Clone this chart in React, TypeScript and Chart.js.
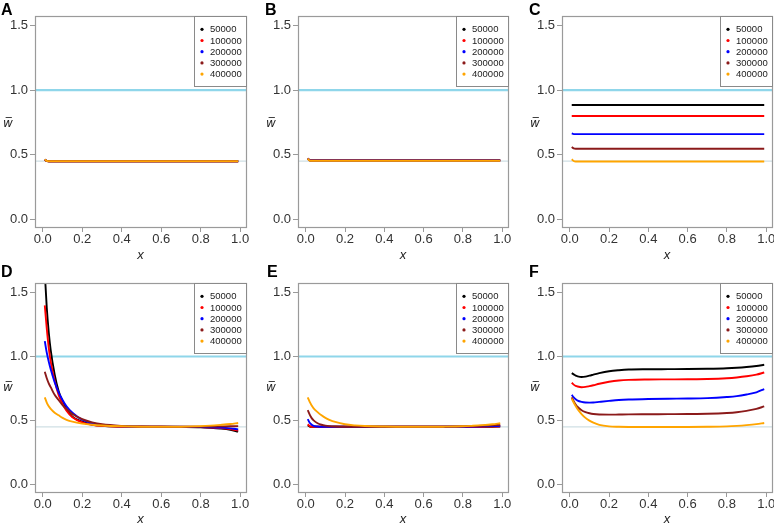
import React, { useEffect, useRef } from 'react';
import { Chart, registerables } from 'chart.js';
Chart.register(...registerables);

// ---------- data ----------
const SERIES_LABELS = ['50000', '100000', '200000', '300000', '400000'];
const SERIES_COLORS = ['#000000', '#ff0000', '#0000ff', '#8b1a1a', '#ffa500'];
const X_TICKS = [0, 0.2, 0.4, 0.6, 0.8, 1.0];
const Y_TICKS = [0, 0.5, 1.0, 1.5];
const X_MIN = -0.0396;
const X_MAX = 1.0296;
const Y_MIN = -0.06;
const Y_MAX = 1.575;
const REF_UPPER = 1.0;
const REF_LOWER = 0.45;
const PANEL_LETTERS = ['A', 'B', 'C', 'D', 'E', 'F'];

// Panels A, B, C share this x grid
const xTop = [0.01, 0.02, 0.03, 0.05, 0.1, 0.2, 0.4, 0.6, 0.8, 0.99];

const A_50000 = [0.46, 0.451, 0.45, 0.45, 0.45, 0.45, 0.45, 0.45, 0.45, 0.45];
const A_100000 = [0.461, 0.451, 0.45, 0.45, 0.45, 0.45, 0.45, 0.45, 0.45, 0.45];
const A_200000 = [0.462, 0.452, 0.45, 0.45, 0.45, 0.45, 0.45, 0.45, 0.45, 0.45];
const A_300000 = [0.463, 0.452, 0.45, 0.45, 0.45, 0.45, 0.45, 0.45, 0.45, 0.45];
const A_400000 = [0.464, 0.452, 0.45, 0.45, 0.45, 0.45, 0.45, 0.45, 0.45, 0.45];

const B_50000 = [0.47, 0.459, 0.457, 0.457, 0.457, 0.457, 0.457, 0.457, 0.457, 0.457];
const B_100000 = [0.47, 0.458, 0.456, 0.456, 0.456, 0.456, 0.456, 0.456, 0.456, 0.456];
const B_200000 = [0.47, 0.457, 0.455, 0.455, 0.455, 0.455, 0.455, 0.455, 0.455, 0.455];
const B_300000 = [0.47, 0.456, 0.454, 0.454, 0.454, 0.454, 0.454, 0.454, 0.454, 0.454];
const B_400000 = [0.47, 0.455, 0.453, 0.453, 0.453, 0.453, 0.453, 0.453, 0.453, 0.453];

const C_50000 = [0.885, 0.885, 0.885, 0.885, 0.885, 0.885, 0.885, 0.885, 0.885, 0.885];
const C_100000 = [0.8, 0.8, 0.8, 0.8, 0.8, 0.8, 0.8, 0.8, 0.8, 0.8];
const C_200000 = [0.665, 0.66, 0.66, 0.66, 0.66, 0.66, 0.66, 0.66, 0.66, 0.66];
const C_300000 = [0.56, 0.549, 0.546, 0.546, 0.546, 0.546, 0.546, 0.546, 0.546, 0.546];
const C_400000 = [0.465, 0.451, 0.447, 0.447, 0.447, 0.447, 0.447, 0.447, 0.447, 0.447];

// Panels D, E, F share this x grid
const xBottom = [0.01, 0.02, 0.03, 0.04, 0.06, 0.08, 0.1, 0.12, 0.15, 0.2, 0.25, 0.3, 0.4, 0.5, 0.6, 0.7, 0.8, 0.85, 0.9, 0.95, 0.99];

const D_50000 = [1.66, 1.38, 1.19, 1.05, 0.86, 0.73, 0.65, 0.59, 0.53, 0.49, 0.468, 0.458, 0.452, 0.45, 0.45, 0.449, 0.447, 0.443, 0.437, 0.427, 0.412];
const D_100000 = [1.4, 1.22, 1.07, 0.96, 0.81, 0.7, 0.63, 0.575, 0.525, 0.485, 0.466, 0.457, 0.451, 0.45, 0.45, 0.449, 0.448, 0.445, 0.44, 0.432, 0.42];
const D_200000 = [1.12, 1.03, 0.96, 0.9, 0.8, 0.72, 0.66, 0.61, 0.56, 0.505, 0.478, 0.464, 0.454, 0.451, 0.45, 0.45, 0.449, 0.447, 0.444, 0.438, 0.43];
const D_300000 = [0.88, 0.83, 0.79, 0.76, 0.7, 0.66, 0.62, 0.59, 0.55, 0.51, 0.485, 0.47, 0.457, 0.452, 0.45, 0.45, 0.451, 0.452, 0.453, 0.454, 0.455];
const D_400000 = [0.68, 0.64, 0.61, 0.59, 0.56, 0.54, 0.52, 0.505, 0.49, 0.475, 0.466, 0.46, 0.454, 0.451, 0.45, 0.451, 0.455, 0.459, 0.465, 0.472, 0.48];

const E_50000 = [0.462, 0.452, 0.45, 0.45, 0.45, 0.45, 0.45, 0.45, 0.45, 0.45, 0.45, 0.45, 0.45, 0.45, 0.45, 0.45, 0.45, 0.45, 0.45, 0.451, 0.452];
const E_100000 = [0.47, 0.455, 0.45, 0.45, 0.45, 0.45, 0.45, 0.45, 0.45, 0.45, 0.45, 0.45, 0.45, 0.45, 0.45, 0.45, 0.45, 0.45, 0.451, 0.452, 0.453];
const E_200000 = [0.51, 0.482, 0.467, 0.458, 0.452, 0.45, 0.45, 0.45, 0.45, 0.45, 0.45, 0.45, 0.45, 0.45, 0.45, 0.45, 0.451, 0.452, 0.453, 0.455, 0.457];
const E_300000 = [0.58, 0.545, 0.518, 0.5, 0.478, 0.466, 0.459, 0.455, 0.452, 0.45, 0.45, 0.45, 0.45, 0.45, 0.45, 0.451, 0.453, 0.455, 0.458, 0.462, 0.466];
const E_400000 = [0.68, 0.645, 0.617, 0.595, 0.565, 0.54, 0.52, 0.505, 0.488, 0.47, 0.461, 0.456, 0.452, 0.45, 0.45, 0.451, 0.454, 0.458, 0.463, 0.47, 0.478];

const F_50000 = [0.87, 0.86, 0.85, 0.845, 0.84, 0.843, 0.85, 0.858, 0.87, 0.885, 0.893, 0.898, 0.9, 0.901, 0.902, 0.904, 0.908, 0.912, 0.918, 0.926, 0.935];
const F_100000 = [0.795, 0.78, 0.77, 0.765, 0.76, 0.762, 0.768, 0.775, 0.787, 0.802, 0.812, 0.817, 0.82, 0.821, 0.822, 0.824, 0.83, 0.836, 0.845, 0.858, 0.875];
const F_200000 = [0.7, 0.68, 0.665, 0.655, 0.645, 0.64, 0.639, 0.64, 0.645, 0.653, 0.66, 0.664, 0.668, 0.67, 0.671, 0.674, 0.683, 0.69, 0.703, 0.72, 0.745];
const F_300000 = [0.68, 0.65, 0.625, 0.605, 0.58, 0.565, 0.556, 0.55, 0.546, 0.545, 0.546, 0.547, 0.548, 0.549, 0.55, 0.552, 0.558, 0.564, 0.575, 0.59, 0.61];
const F_400000 = [0.67, 0.64, 0.612, 0.588, 0.55, 0.52, 0.498, 0.482, 0.465, 0.453, 0.45, 0.449, 0.449, 0.449, 0.449, 0.45, 0.453, 0.457, 0.463, 0.471, 0.48];

const PANEL_X = [xTop, xTop, xTop, xBottom, xBottom, xBottom];
const PANEL_SERIES = [
  [A_50000, A_100000, A_200000, A_300000, A_400000],
  [B_50000, B_100000, B_200000, B_300000, B_400000],
  [C_50000, C_100000, C_200000, C_300000, C_400000],
  [D_50000, D_100000, D_200000, D_300000, D_400000],
  [E_50000, E_100000, E_200000, E_300000, E_400000],
  [F_50000, F_100000, F_200000, F_300000, F_400000],
];

// ---------- layout ----------
const CANVAS_LEFT = [0, 260, 520];
const CANVAS_WIDTH = [260, 260, 254];
const CANVAS_TOP = [0, 260];
const CANVAS_HEIGHT = [260, 266];
const AREA_LEFT = [35, 38, 42];
const AREA_RIGHT = [246, 248, 252];
const AREA_TOP = [16, 23];
const AREA_BOTTOM = [227, 232];
const LETTER_X = [[1, 5, 9], [1, 7, 9]];
const LETTER_BASELINE = [15, 17];
const XLABEL_Y = [255, 259];
const YLABEL_Y = [124, 128];

const FONT = '"Liberation Sans", Arial, Helvetica, sans-serif';
const FRAME = '#9a9a9a';

function Panel({ idx }: { idx: number }) {
  const ref = useRef<HTMLCanvasElement | null>(null);
  const row = Math.floor(idx / 3);
  const col = idx % 3;
  const w = CANVAS_WIDTH[col];
  const h = CANVAS_HEIGHT[row];

  useEffect(() => {
    if (!ref.current) return;
    const xs = PANEL_X[idx];
    const series = PANEL_SERIES[idx];
    const datasets: any[] = [
      {
        label: 'ref1',
        data: [{ x: X_MIN, y: REF_UPPER }, { x: X_MAX, y: REF_UPPER }],
        borderColor: '#8fd6ea',
        borderWidth: 2.2,
        pointRadius: 0,
        order: 100,
      },
      {
        label: 'ref045',
        data: [{ x: X_MIN, y: REF_LOWER }, { x: X_MAX, y: REF_LOWER }],
        borderColor: '#cfdfe4',
        borderWidth: 1.2,
        pointRadius: 0,
        order: 99,
      },
      ...series.map((vals, i) => ({
        label: SERIES_LABELS[i],
        data: xs.map((x, j) => ({ x, y: vals[j] })),
        borderColor: SERIES_COLORS[i],
        borderWidth: 1.9,
        pointRadius: 0,
        cubicInterpolationMode: 'monotone',
        order: 10 - i,
      })),
    ];

    const decor = {
      id: 'decor',
      afterDraw(chart: any) {
        const ctx = chart.ctx;
        const a = chart.chartArea;
        ctx.save();
        // frame
        ctx.strokeStyle = FRAME;
        ctx.lineWidth = 1.2;
        ctx.strokeRect(a.left + 0.5, a.top + 0.5, a.right - a.left, a.bottom - a.top);
        // legend
        const lw = 52;
        const lh = 70;
        const lx = a.right - lw;
        const ly = a.top;
        ctx.fillStyle = '#ffffff';
        ctx.fillRect(lx + 0.5, ly + 0.5, lw, lh);
        ctx.strokeStyle = '#8a8a8a';
        ctx.lineWidth = 1;
        ctx.strokeRect(lx + 0.5, ly + 0.5, lw, lh);
        ctx.font = `9.5px ${FONT}`;
        ctx.textBaseline = 'middle';
        ctx.textAlign = 'left';
        SERIES_LABELS.forEach((lab, i) => {
          const cy = ly + 13.3 + i * 11.2;
          ctx.fillStyle = SERIES_COLORS[i];
          ctx.beginPath();
          ctx.arc(lx + 8, cy, 1.6, 0, Math.PI * 2);
          ctx.fill();
          ctx.fillStyle = '#222';
          ctx.fillText(lab, lx + 16, cy + 0.5);
        });
        // panel letter
        ctx.fillStyle = '#000';
        ctx.font = `bold 16px ${FONT}`;
        ctx.textBaseline = 'alphabetic';
        ctx.fillText(PANEL_LETTERS[idx], LETTER_X[row][col], LETTER_BASELINE[row]);
        // x label
        ctx.font = `italic 13px ${FONT}`;
        ctx.textAlign = 'center';
        ctx.textBaseline = 'middle';
        ctx.fillStyle = '#222';
        ctx.fillText('x', (a.left + a.right) / 2, XLABEL_Y[row]);
        // y label (w with overline)
        ctx.font = `italic 12px "DejaVu Sans", ${FONT}`;
        ctx.fillText('w\u0305', a.left - 27, YLABEL_Y[row]);
        ctx.restore();
      },
    };

    const chart = new Chart(ref.current, {
      type: 'line',
      data: { datasets },
      options: {
        animation: false,
        responsive: false,
        maintainAspectRatio: false,
        layout: { padding: { top: AREA_TOP[row], right: w - AREA_RIGHT[col], left: 0, bottom: 0 } },
        plugins: { legend: { display: false }, tooltip: { enabled: false }, title: { display: false } },
        scales: {
          x: {
            type: 'linear',
            min: X_MIN,
            max: X_MAX,
            afterBuildTicks: (s: any) => {
              s.ticks = X_TICKS.map((v) => ({ value: v }));
            },
            afterFit: (s: any) => {
              s.height = h - AREA_BOTTOM[row];
              s.paddingLeft = 0;
              s.paddingRight = 0;
            },
            grid: { display: true, drawOnChartArea: false, drawTicks: true, tickLength: 5, color: FRAME, tickColor: FRAME },
            border: { display: false },
            ticks: {
              padding: 0,
              maxRotation: 0,
              autoSkip: false,
              color: '#333',
              font: { family: FONT, size: 13 },
              callback: (v: any) => Number(v).toFixed(1),
            },
          },
          y: {
            type: 'linear',
            min: Y_MIN,
            max: Y_MAX,
            afterBuildTicks: (s: any) => {
              s.ticks = Y_TICKS.map((v) => ({ value: v }));
            },
            afterFit: (s: any) => {
              s.width = AREA_LEFT[col];
              s.paddingTop = 0;
              s.paddingBottom = 0;
            },
            grid: { display: true, drawOnChartArea: false, drawTicks: true, tickLength: 5, color: FRAME, tickColor: FRAME },
            border: { display: false },
            ticks: {
              padding: 2,
              autoSkip: false,
              color: '#333',
              font: { family: FONT, size: 13 },
              callback: (v: any) => Number(v).toFixed(1),
            },
          },
        },
      },
      plugins: [decor],
    } as any);
    return () => chart.destroy();
  }, [idx]);

  return (
    <canvas
      ref={ref}
      width={w}
      height={h}
      style={{ position: 'absolute', left: CANVAS_LEFT[col], top: CANVAS_TOP[row], width: w, height: h }}
    />
  );
}

export default function App() {
  return (
    <div style={{ position: 'fixed', left: 0, top: 0, width: 774, height: 526, background: '#fff', overflow: 'hidden' }}>
      {PANEL_LETTERS.map((_, i) => (
        <Panel key={i} idx={i} />
      ))}
    </div>
  );
}
